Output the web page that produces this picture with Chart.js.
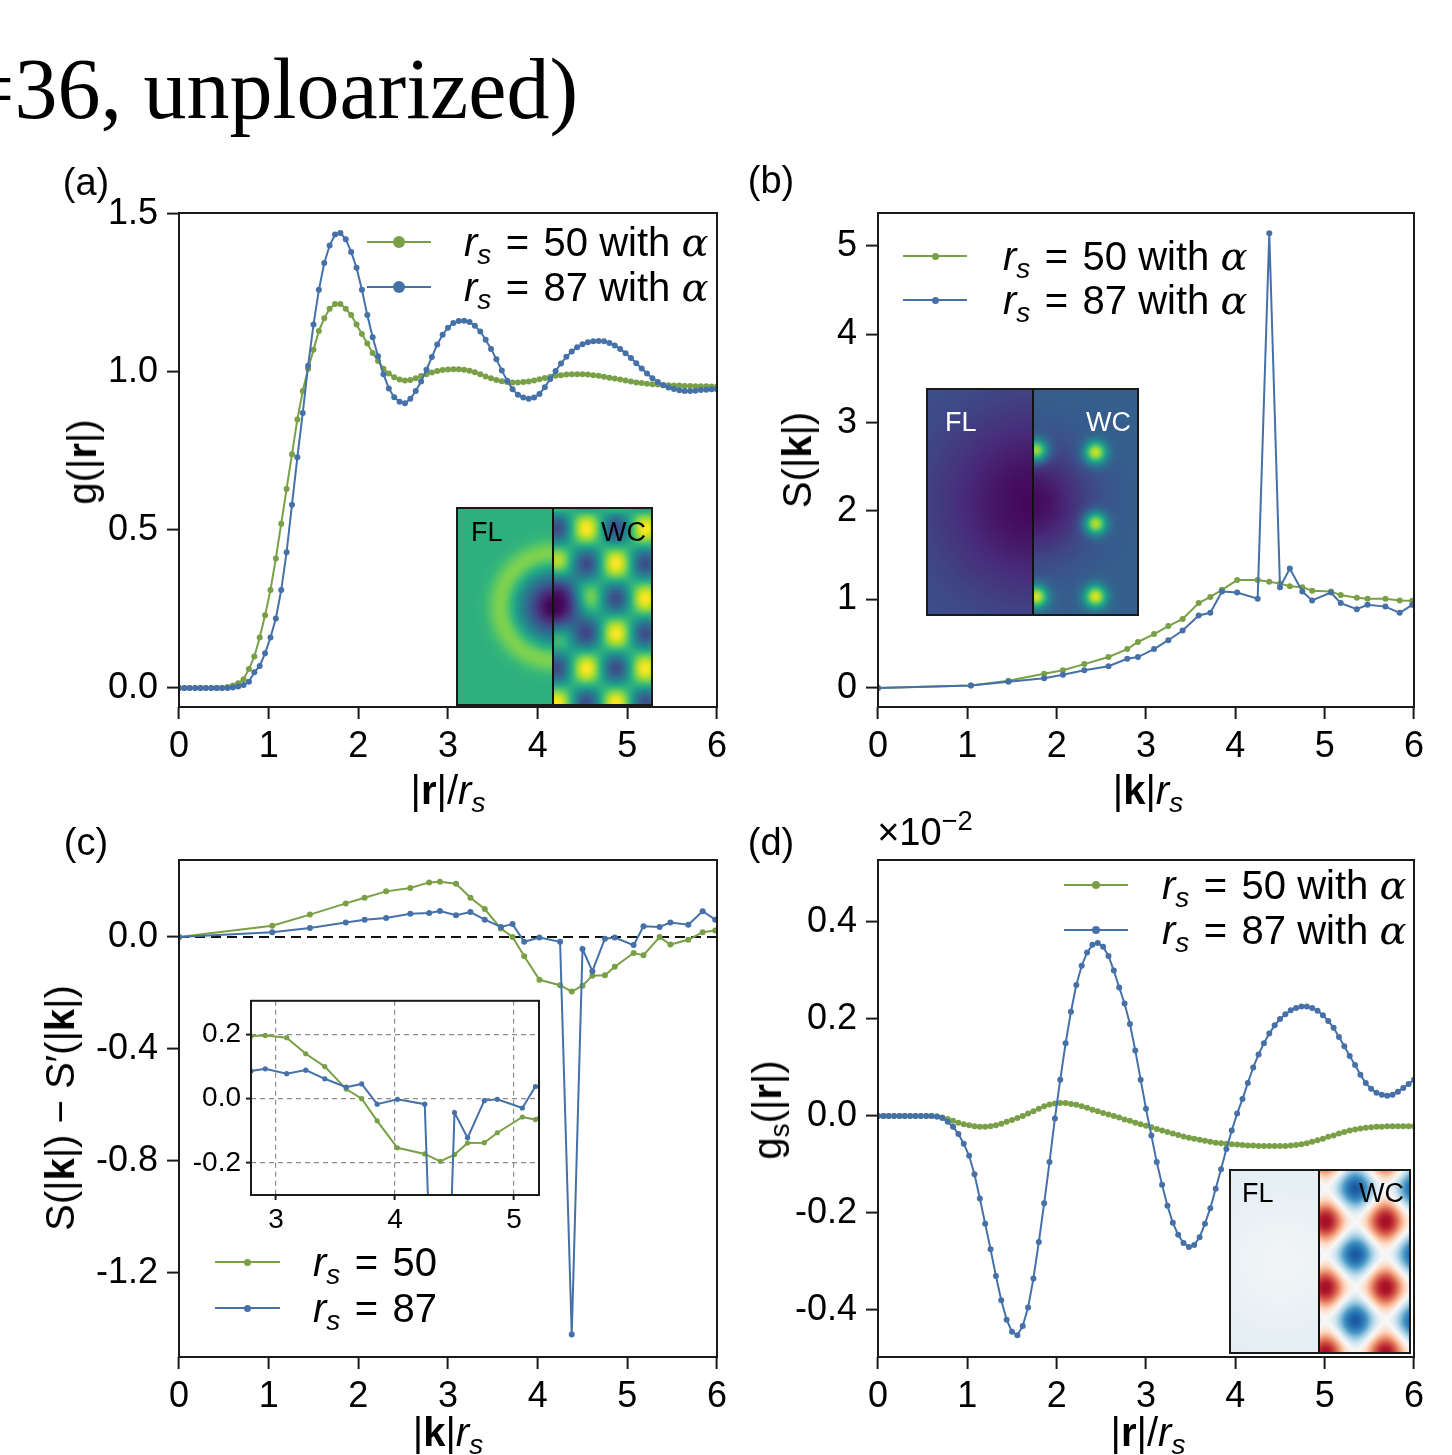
<!DOCTYPE html>
<html>
<head>
<meta charset="utf-8">
<title>g(r), S(k), g_s(r) panels</title>
<script src="https://cdn.jsdelivr.net/npm/chart.js"></script>
<style>
  html, body { margin: 0; padding: 0; background: #fff; }
  body { position: relative; width: 1452px; height: 1455px; overflow: hidden;
         font-family: 'Liberation Sans', Arial, sans-serif; color: #000; }
  canvas { position: absolute; }
  .t { position: absolute; white-space: nowrap; line-height: 1; font-size: 40px;
       transform: translate(-50%, -50%); }
  .pl { font-size: 38px; }
  .rot { transform: translate(-50%, -50%) rotate(-90deg); }
  .sub { font-size: 0.7em; position: relative; top: 0.28em; }
  .al { font-family: 'DejaVu Serif', 'Liberation Serif', serif; font-style: italic; }
  .title { position: absolute; left: -34px; top: 46px; font-family: 'Liberation Serif', 'Times New Roman', serif;
           font-size: 86px; line-height: 1; white-space: nowrap; }
  .leg { position: absolute; left: 0; height: 0; }
  .leg .ln { position: absolute; height: 2px; top: -1px; }
  .leg .dot { position: absolute; border-radius: 50%; }
  .leg .lab { position: absolute; white-space: nowrap; line-height: 1; transform: translateY(-50%); }
  .inset { border: 2px solid #1a1a1a; }
  .il { position: absolute; font-size: 27px; line-height: 1; white-space: nowrap; transform: translateY(-50%); }
  .ir { transform: translate(-100%, -50%); }
</style>
</head>
<body>
<div class="title">=36, unploarized)</div>

<canvas id="ca" width="747" height="670" style="left:0;top:160px"></canvas>
<canvas id="cb" width="722" height="670" style="left:730px;top:160px"></canvas>
<canvas id="cc" width="747" height="635" style="left:0;top:820px"></canvas>
<canvas id="cd" width="722" height="635" style="left:730px;top:820px"></canvas>
<canvas id="cin" width="380" height="261" style="left:180px;top:979px"></canvas>

<canvas id="ha" class="inset" width="193" height="195" style="left:456px;top:507px"></canvas>
<canvas id="hb" class="inset" width="209" height="224" style="left:926px;top:388px"></canvas>
<canvas id="hd" class="inset" width="178" height="181" style="left:1229px;top:1169px"></canvas>

<div class="il" style="left:471px;top:532px">FL</div>
<div class="il ir" style="left:646px;top:532px">WC</div>
<div class="il" style="left:945px;top:422px;color:#fff">FL</div>
<div class="il ir" style="left:1131px;top:422px;color:#fff">WC</div>
<div class="il" style="left:1242px;top:1193px">FL</div>
<div class="il ir" style="left:1404px;top:1193px">WC</div>

<div class="t pl" style="left:86px;top:182px">(a)</div>
<div class="t pl" style="left:771px;top:180px">(b)</div>
<div class="t pl" style="left:86px;top:842px">(c)</div>
<div class="t pl" style="left:771px;top:842px">(d)</div>
<div class="t pl" style="left:925px;top:832px">×10<span style="font-size:0.72em;position:relative;top:-0.55em">−2</span></div>

<div class="t" style="left:448px;top:790px">|<b>r</b>|/<i>r</i><span class="sub"><i>s</i></span></div>
<div class="t" style="left:1148px;top:790px">|<b>k</b>|<i>r</i><span class="sub"><i>s</i></span></div>
<div class="t" style="left:448px;top:1432px">|<b>k</b>|<i>r</i><span class="sub"><i>s</i></span></div>
<div class="t" style="left:1148px;top:1432px">|<b>r</b>|/<i>r</i><span class="sub"><i>s</i></span></div>
<div class="t rot" style="left:82px;top:462px">g(|<b>r</b>|)</div>
<div class="t rot" style="left:797px;top:460px">S(|<b>k</b>|)</div>
<div class="t rot" style="left:60px;top:1108px">S(|<b>k</b>|) − S′(|<b>k</b>|)</div>
<div class="t rot" style="left:767px;top:1110px">g<span class="sub">s</span>(|<b>r</b>|)</div>

<script>
// radial grid shared by panels (a) and (d)
const rGrid = [
  0, 0.06, 0.12, 0.18, 0.24, 0.30, 0.36, 0.42, 0.48, 0.54,
  0.60, 0.66, 0.72, 0.78, 0.84, 0.90, 0.96, 1.02, 1.08, 1.14,
  1.20, 1.26, 1.32, 1.38, 1.44, 1.50, 1.56, 1.62, 1.68, 1.74,
  1.80, 1.86, 1.92, 1.98, 2.04, 2.10, 2.16, 2.22, 2.28, 2.34,
  2.40, 2.46, 2.52, 2.58, 2.64, 2.70, 2.76, 2.82, 2.88, 2.94,
  3.00, 3.06, 3.12, 3.18, 3.24, 3.30, 3.36, 3.42, 3.48, 3.54,
  3.60, 3.66, 3.72, 3.78, 3.84, 3.90, 3.96, 4.02, 4.08, 4.14,
  4.20, 4.26, 4.32, 4.38, 4.44, 4.50, 4.56, 4.62, 4.68, 4.74,
  4.80, 4.86, 4.92, 4.98, 5.04, 5.10, 5.16, 5.22, 5.28, 5.34,
  5.40, 5.46, 5.52, 5.58, 5.64, 5.70, 5.76, 5.82, 5.88, 5.94,
  6.00
];

// (a) g(|r|)
const gR50 = [
  0, 0, 0, 0, 0, 0, 0, 0, 0, 0.003,
  0.008, 0.015, 0.028, 0.06, 0.10, 0.16, 0.23, 0.31, 0.41, 0.52,
  0.63, 0.74, 0.85, 0.94, 1.01, 1.07, 1.13, 1.17, 1.20, 1.215,
  1.215, 1.20, 1.18, 1.15, 1.12, 1.09, 1.06, 1.035, 1.01, 0.995,
  0.983, 0.976, 0.973, 0.975, 0.98, 0.987, 0.993, 0.998, 1.003, 1.006,
  1.008, 1.009, 1.009, 1.007, 1.004, 0.999, 0.993, 0.986, 0.98, 0.975,
  0.971, 0.968, 0.967, 0.967, 0.968, 0.970, 0.973, 0.977, 0.981, 0.985,
  0.988, 0.990, 0.992, 0.993, 0.993, 0.993, 0.992, 0.99, 0.988, 0.985,
  0.982, 0.979, 0.976, 0.973, 0.97, 0.967, 0.965, 0.963, 0.961, 0.96,
  0.959, 0.958, 0.957, 0.957, 0.956, 0.956, 0.955, 0.955, 0.955, 0.954,
  0.954
];
const gR87 = [
  0, 0, 0, 0, 0, 0, 0, 0, 0, 0,
  0.002, 0.005, 0.01, 0.02, 0.05, 0.07, 0.11, 0.16, 0.22, 0.31,
  0.43, 0.58, 0.73, 0.87, 1.02, 1.15, 1.26, 1.345, 1.40, 1.435,
  1.44, 1.42, 1.38, 1.33, 1.26, 1.18, 1.11, 1.05, 0.993, 0.948,
  0.92, 0.906, 0.901, 0.915, 0.94, 0.97, 1.007, 1.047, 1.087, 1.118,
  1.14, 1.155, 1.161, 1.162, 1.158, 1.146, 1.128, 1.102, 1.073, 1.04,
  1.005, 0.972, 0.945, 0.928, 0.919, 0.915, 0.919, 0.93, 0.952, 0.978,
  1.003, 1.027, 1.048, 1.065, 1.078, 1.088, 1.094, 1.097, 1.098, 1.097,
  1.092, 1.084, 1.073, 1.059, 1.044, 1.028, 1.011, 0.995, 0.98, 0.968,
  0.958, 0.951, 0.946, 0.942, 0.94, 0.94, 0.941, 0.943, 0.944, 0.945,
  0.945
];

// (b), (c) k grid
const kVals = [0, 1.04, 1.46, 1.86, 2.07, 2.31, 2.58, 2.79, 2.91, 3.09, 3.25, 3.41, 3.59, 3.72, 3.85,
               4.02, 4.25, 4.38, 4.50, 4.61, 4.75, 4.86, 5.07, 5.18, 5.36, 5.48, 5.68, 5.84, 5.98];
const sK50 = [0, 0.027, 0.083, 0.16, 0.20, 0.27, 0.35, 0.44, 0.52, 0.61, 0.70, 0.78, 0.96, 1.03, 1.11,
              1.22, 1.22, 1.20, 1.18, 1.15, 1.14, 1.10, 1.09, 1.05, 1.02, 1.01, 1.01, 0.99, 0.985];
const sK87 = [0, 0.027, 0.07, 0.11, 0.15, 0.20, 0.246, 0.33, 0.35, 0.44, 0.54, 0.65, 0.82, 0.85, 1.09,
              1.08, 1.01, 5.14, 1.14, 1.35, 1.09, 0.99, 1.08, 0.96, 0.89, 0.94, 0.92, 0.85, 0.94];
const dK50 = [0, 0.04, 0.08, 0.12, 0.14, 0.163, 0.175, 0.195, 0.197, 0.19, 0.14, 0.10, 0.03, 0.0, -0.069,
              -0.153, -0.172, -0.195, -0.174, -0.138, -0.137, -0.106, -0.057, -0.065, 0.0, -0.027, -0.01, 0.017, 0.023];
const dK87 = [0, 0.017, 0.032, 0.052, 0.062, 0.068, 0.083, 0.086, 0.093, 0.078, 0.089, 0.062, 0.036, 0.046, -0.017,
              -0.002, -0.017, -1.42, -0.043, -0.122, -0.006, -0.002, -0.029, 0.038, 0.036, 0.052, 0.044, 0.092, 0.062];

// (d) g_s(|r|), in units of 1e-2
const gsR50 = [
  0, 0, 0, 0, 0, 0, 0, 0, 0, 0,
  0, -0.001, -0.003, -0.006, -0.01, -0.014, -0.017, -0.019, -0.021, -0.022,
  -0.022, -0.021, -0.019, -0.016, -0.012, -0.008, -0.004, 0.0, 0.005, 0.01,
  0.015, 0.02, 0.024, 0.026, 0.027, 0.027, 0.025, 0.023, 0.02, 0.017,
  0.013, 0.01, 0.006, 0.003, 0.0, -0.003, -0.007, -0.01, -0.014, -0.017,
  -0.02, -0.023, -0.027, -0.03, -0.033, -0.036, -0.039, -0.042, -0.045, -0.047,
  -0.049, -0.051, -0.053, -0.055, -0.056, -0.057, -0.058, -0.059, -0.06, -0.061,
  -0.061, -0.062, -0.062, -0.062, -0.062, -0.062, -0.062, -0.061, -0.06, -0.058,
  -0.056, -0.053, -0.05, -0.047, -0.043, -0.04, -0.036, -0.033, -0.03, -0.028,
  -0.026, -0.024, -0.023, -0.022, -0.022, -0.021, -0.021, -0.021, -0.021, -0.021,
  -0.021
];
const gsR87 = [
  0, 0, 0, 0, 0, 0, 0, 0, 0, 0,
  0, -0.001, -0.004, -0.012, -0.022, -0.037, -0.057, -0.082, -0.12, -0.17,
  -0.222, -0.275, -0.33, -0.38, -0.42, -0.445, -0.452, -0.433, -0.395, -0.335,
  -0.26, -0.18, -0.095, -0.005, 0.075, 0.15, 0.215, 0.27, 0.31, 0.337,
  0.353, 0.357, 0.349, 0.33, 0.30, 0.265, 0.232, 0.19, 0.135, 0.075,
  0.015, -0.04, -0.095, -0.142, -0.185, -0.22, -0.245, -0.262, -0.27, -0.266,
  -0.25, -0.222, -0.19, -0.15, -0.11, -0.068, -0.03, 0.005, 0.035, 0.068,
  0.1, 0.127, 0.15, 0.17, 0.187, 0.2, 0.21, 0.218, 0.223, 0.226,
  0.226, 0.223, 0.217, 0.208, 0.196, 0.182, 0.163, 0.144, 0.124, 0.105,
  0.085, 0.068, 0.056, 0.048, 0.044, 0.042, 0.044, 0.05, 0.058, 0.066,
  0.075
];

const seriesNames = ['r_s = 50 with α', 'r_s = 87 with α'];
const diffNames = ['r_s = 50', 'r_s = 87'];

const xTicks = [0, 1, 2, 3, 4, 5, 6];
const aYTicks = [0, 0.5, 1.0, 1.5];
const bYTicks = [0, 1, 2, 3, 4, 5];
const cYTicks = [0, -0.4, -0.8, -1.2];
const dYTicks = [-0.4, -0.2, 0, 0.2, 0.4];
const insetXTicks = [3, 4, 5];
const insetYTicks = [-0.2, 0, 0.2];

const GREEN = '#79a046';
const BLUE = '#4571a8';
const FONT = "'Liberation Sans', Arial, sans-serif";

const fmtInt = v => String(v);
const fmt1 = v => v.toFixed(1);

const framePlugin = {
  id: 'frame',
  beforeDraw(chart, args, opts) {
    if (!opts.fill) return;
    const a = chart.chartArea, ctx = chart.ctx;
    ctx.save();
    ctx.fillStyle = opts.fill;
    ctx.fillRect(a.left, a.top, a.width, a.height);
    ctx.restore();
  },
  afterDraw(chart) {
    const a = chart.chartArea, ctx = chart.ctx;
    ctx.save();
    ctx.strokeStyle = '#1a1a1a';
    ctx.lineWidth = 2;
    ctx.strokeRect(a.left, a.top, a.width, a.height);
    ctx.restore();
  }
};

const zeroPlugin = {
  id: 'zeroLine',
  beforeDatasetsDraw(chart, args, opts) {
    if (!opts.show) return;
    const a = chart.chartArea, ctx = chart.ctx;
    const y = chart.scales.y.getPixelForValue(0);
    ctx.save();
    ctx.setLineDash([10, 6]);
    ctx.strokeStyle = '#111';
    ctx.lineWidth = 2.2;
    ctx.beginPath();
    ctx.moveTo(a.left, y);
    ctx.lineTo(a.right, y);
    ctx.stroke();
    ctx.restore();
  }
};

function makeChart(id, P) {
  const tickFont = { family: FONT, size: P.fs };
  const axis = (min, max, vals, fmt, isX) => ({
    type: 'linear', min, max,
    afterBuildTicks: s => { s.ticks = vals.map(v => ({ value: v })); },
    afterFit: s => { if (isX) s.height = P.xH; else s.width = P.yW; },
    ticks: { font: tickFont, color: '#000', padding: isX ? P.padX : P.padY,
             callback: v => fmt(v), maxRotation: 0, autoSkip: false },
    grid: { display: true, drawOnChartArea: !!P.grid, color: P.grid || 'transparent', lineWidth: 1.2,
            drawTicks: true, tickLength: P.tickLen, tickWidth: 2, tickColor: '#1a1a1a' },
    border: { display: false, dash: P.grid ? [5, 4] : [] }
  });
  return new Chart(document.getElementById(id), {
    type: 'line',
    data: {
      datasets: P.series.map(s => ({
        label: s.label,
        data: s.xs.map((x, i) => ({ x, y: s.ys[i] })),
        borderColor: s.color, backgroundColor: s.color,
        pointBackgroundColor: s.color, pointBorderColor: s.color, pointBorderWidth: 0,
        pointRadius: P.pr, borderWidth: P.bw, tension: 0, order: s.order
      }))
    },
    options: {
      responsive: false, animation: false, devicePixelRatio: 1, events: [],
      layout: { padding: { left: 0, top: P.padTop, right: P.padRight, bottom: 0 } },
      plugins: {
        legend: { display: false }, tooltip: { enabled: false },
        frame: { fill: P.fill || null },
        zeroLine: { show: !!P.zero }
      },
      scales: {
        x: axis(P.xMin, P.xMax, P.xTicks, P.fmtX, true),
        y: axis(P.yMin, P.yMax, P.yTicks, P.fmtY, false)
      }
    },
    plugins: [framePlugin, zeroPlugin]
  });
}

function mathText(s) {
  return s.replace('r_s', '<i>r</i><span class="sub"><i>s</i></span>')
          .replace(' = ', '&#8202;&nbsp;=&nbsp;&#8202;')
          .replace('α', '<span class="al">α</span>');
}

function htmlLegend(chart, L) {
  chart.data.datasets.forEach((ds, i) => {
    const row = document.createElement('div');
    row.className = 'leg';
    row.style.top = (L.y0 + i * L.dy) + 'px';
    row.innerHTML =
      `<div class="ln" style="left:${L.x}px;width:${L.w}px;background:${ds.borderColor}"></div>` +
      `<div class="dot" style="left:${L.x + L.w / 2 - L.r}px;top:${-L.r}px;width:${2 * L.r}px;height:${2 * L.r}px;background:${ds.borderColor}"></div>` +
      `<div class="lab" style="left:${L.tx}px;font-size:${L.fs}px">${mathText(ds.label)}</div>`;
    document.body.appendChild(row);
  });
}

const common = { fs: 36, tickLen: 12, padX: 6, padY: 9, bw: 2, xMin: 0, xMax: 6, xTicks, fmtX: fmtInt };

const chartA = makeChart('ca', Object.assign({}, common, {
  series: [
    { label: seriesNames[0], xs: rGrid, ys: gR50, color: GREEN, order: 2 },
    { label: seriesNames[1], xs: rGrid, ys: gR87, color: BLUE, order: 1 }
  ],
  yMin: -0.06, yMax: 1.503, yTicks: aYTicks, fmtY: fmt1,
  yW: 179, xH: 123, padTop: 53, padRight: 30, pr: 3
}));

const chartB = makeChart('cb', Object.assign({}, common, {
  series: [
    { label: seriesNames[0], xs: kVals, ys: sK50, color: GREEN, order: 2 },
    { label: seriesNames[1], xs: kVals, ys: sK87, color: BLUE, order: 1 }
  ],
  yMin: -0.215, yMax: 5.37, yTicks: bYTicks, fmtY: fmtInt,
  yW: 148, xH: 123, padTop: 53, padRight: 38, pr: 3
}));

const chartC = makeChart('cc', Object.assign({}, common, {
  series: [
    { label: diffNames[0], xs: kVals, ys: dK50, color: GREEN, order: 2 },
    { label: diffNames[1], xs: kVals, ys: dK87, color: BLUE, order: 1 }
  ],
  yMin: -1.5, yMax: 0.275, yTicks: cYTicks, fmtY: fmt1, zero: true,
  yW: 179, xH: 98, padTop: 40, padRight: 30, pr: 3
}));

const chartD = makeChart('cd', Object.assign({}, common, {
  series: [
    { label: seriesNames[0], xs: rGrid, ys: gsR50, color: GREEN, order: 2 },
    { label: seriesNames[1], xs: rGrid, ys: gsR87, color: BLUE, order: 1 }
  ],
  yMin: -0.497, yMax: 0.528, yTicks: dYTicks, fmtY: fmt1,
  yW: 148, xH: 98, padTop: 40, padRight: 38, pr: 3
}));

// zoomed inset of panel (c)
makeChart('cin', {
  series: [
    { label: diffNames[0], xs: kVals, ys: dK50, color: GREEN, order: 2 },
    { label: diffNames[1], xs: kVals, ys: dK87, color: BLUE, order: 1 }
  ],
  xMin: 2.79, xMax: 5.21, xTicks: insetXTicks, fmtX: fmtInt,
  yMin: -0.30, yMax: 0.305, yTicks: insetYTicks, fmtY: fmt1,
  fs: 28, tickLen: 5, padX: 3, padY: 5, bw: 2, pr: 2.6, grid: '#8c8c8c', fill: '#fff',
  yW: 71, xH: 45, padTop: 20, padRight: 21
});

htmlLegend(chartA, { x: 367, w: 64, r: 6, tx: 464, y0: 242, dy: 45, fs: 40 });
htmlLegend(chartB, { x: 903, w: 64, r: 3.5, tx: 1003, y0: 256, dy: 44, fs: 40 });
htmlLegend(chartC, { x: 215, w: 65, r: 3.5, tx: 313, y0: 1262, dy: 46, fs: 40 });
htmlLegend(chartD, { x: 1064, w: 64, r: 4, tx: 1162, y0: 885, dy: 45, fs: 40 });

// ---- colour-map insets (FL | WC snapshots) ----
const VIR = [[68,1,84],[72,40,120],[62,74,137],[49,104,142],[38,130,142],[31,158,137],[53,183,121],[110,206,88],[181,222,43],[253,231,37]];
const RDBU = [[5,48,97],[33,102,172],[67,147,195],[146,197,222],[209,229,240],[247,247,247],[253,219,199],[244,165,130],[214,96,77],[178,24,43],[103,0,31]];
function ramp(stops, t) {
  t = Math.max(0, Math.min(1, t));
  const p = t * (stops.length - 1), i = Math.min(Math.floor(p), stops.length - 2), f = p - i;
  return stops[i].map((c, k) => c + (stops[i + 1][k] - c) * f);
}
const viridis = t => ramp(VIR, t);
const rdbu = v => ramp(RDBU, (v + 1) / 2);

function paintInset(id, fn, cmap, divX) {
  const cv = document.getElementById(id), ctx = cv.getContext('2d');
  const w = cv.width, h = cv.height, img = ctx.createImageData(w, h);
  for (let y = 0; y < h; y++) {
    for (let x = 0; x < w; x++) {
      const c = cmap(fn(x, y)), k = 4 * (y * w + x);
      img.data[k] = c[0]; img.data[k + 1] = c[1]; img.data[k + 2] = c[2]; img.data[k + 3] = 255;
    }
  }
  ctx.putImageData(img, 0, 0);
  ctx.fillStyle = '#111';
  ctx.fillRect(divX - 1, 0, 2, h);
}

paintInset('ha', (x, y) => {
  const r = Math.hypot(x - 95, y - 97);
  if (x < 95) return 0.63 + 0.2 * Math.exp(-(((r - 52) / 14) ** 2)) - 0.63 * Math.exp(-((r / 30) ** 2));
  const c = Math.cos(Math.PI * (x - 128) / 29.5) * Math.cos(Math.PI * (y - 89) / 35);
  return (0.62 + 0.38 * c) * (1 - Math.exp(-((r / 30) ** 2)));
}, viridis, 95);

const spotsB = [[108, 60], [167, 62], [167, 133], [108, 206], [167, 206]];
paintInset('hb', (x, y) => {
  const r = Math.hypot(x - 105, y - 112);
  if (x < 105) return 0.02 + 0.24 * (1 - Math.exp(-((r / 95) ** 2)));
  let v = 0.03 + 0.27 * (1 - Math.exp(-((r / 55) ** 2)));
  for (const [sx, sy] of spotsB) v += 0.65 * Math.exp(-((x - sx) ** 2 + (y - sy) ** 2) / 128);
  return v;
}, viridis, 105);

paintInset('hd', (x, y) => {
  if (x < 88) return -0.1 + 0.07 * Math.exp(-((x - 50) ** 2 + (y - 90) ** 2) / 3200);
  return 0.85 * 0.5 * (Math.cos(2 * Math.PI * (x - 94) / 60) + Math.cos(2 * Math.PI * (y - 50) / 66));
}, rdbu, 88);
</script>
</body>
</html>
